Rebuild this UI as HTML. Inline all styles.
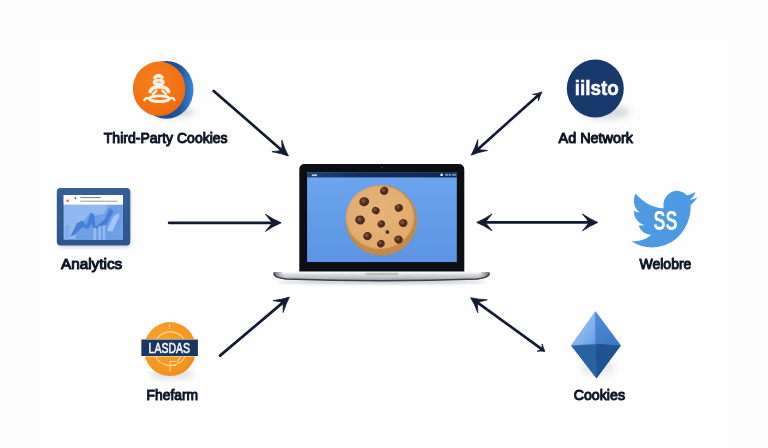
<!DOCTYPE html>
<html lang="en">
<head>
<meta charset="utf-8">
<title>Third-Party Cookies Diagram</title>
<style>
html,body{margin:0;padding:0;background:#fdfdfd;}
body{width:768px;height:448px;overflow:hidden;}
svg{display:block;}
svg text{font-family:"Liberation Sans",sans-serif;}
</style>
</head>
<body>
<svg width="768" height="448" viewBox="0 0 768 448">
<defs>
<radialGradient id="bg" cx="50%" cy="50%" r="75%">
<stop offset="0.7" stop-color="#fefefe"/><stop offset="1" stop-color="#f7f8fa"/>
</radialGradient>
<linearGradient id="base" x1="0" y1="0" x2="0" y2="1">
<stop offset="0" stop-color="#e9eaed"/><stop offset="0.4" stop-color="#d2d4d8"/><stop offset="0.75" stop-color="#b4b7bc"/><stop offset="1" stop-color="#8d9096"/>
</linearGradient>
<linearGradient id="baseH" x1="0" y1="0" x2="1" y2="0">
<stop offset="0" stop-color="#4a4e55" stop-opacity="0.95"/><stop offset="0.012" stop-color="#6a6e75" stop-opacity="0.8"/><stop offset="0.05" stop-color="#9a9da3" stop-opacity="0"/>
<stop offset="0.95" stop-color="#9a9da3" stop-opacity="0"/><stop offset="0.988" stop-color="#6a6e75" stop-opacity="0.8"/><stop offset="1" stop-color="#4a4e55" stop-opacity="0.95"/>
</linearGradient>
<linearGradient id="scr" x1="0" y1="0" x2="0" y2="1">
<stop offset="0" stop-color="#6ca6ef"/><stop offset="1" stop-color="#5a94e3"/>
</linearGradient>
<linearGradient id="mbar" x1="0" y1="0" x2="1" y2="0">
<stop offset="0" stop-color="#1d4272"/><stop offset="0.35" stop-color="#12305a"/><stop offset="1" stop-color="#0e2a50"/>
</linearGradient>
<linearGradient id="rim" x1="0" y1="0" x2="1" y2="0">
<stop offset="0" stop-color="#1a4a88"/><stop offset="0.72" stop-color="#1e5296"/><stop offset="0.9" stop-color="#2f72c0"/><stop offset="1" stop-color="#3d86d6"/>
</linearGradient>
<linearGradient id="frm" x1="0" y1="0" x2="0" y2="1">
<stop offset="0" stop-color="#355f97"/><stop offset="1" stop-color="#2c5589"/>
</linearGradient>
<linearGradient id="d1" x1="0.5" y1="0.5" x2="1" y2="1">
<stop offset="0" stop-color="#8ab8ef"/><stop offset="0.5" stop-color="#78abe8"/><stop offset="1" stop-color="#639ce0"/>
</linearGradient>
<linearGradient id="d2" x1="0" y1="0" x2="0.6" y2="1">
<stop offset="0" stop-color="#4f8dd8"/><stop offset="1" stop-color="#3d7ac6"/>
</linearGradient>
<radialGradient id="org" cx="40%" cy="35%" r="70%">
<stop offset="0" stop-color="#f67f20"/><stop offset="1" stop-color="#f06a0e"/>
</radialGradient>
<radialGradient id="org2" cx="35%" cy="30%" r="80%">
<stop offset="0" stop-color="#f9a22c"/><stop offset="0.8" stop-color="#f4941f"/><stop offset="1" stop-color="#ea851a"/>
</radialGradient>
<radialGradient id="cookie" cx="45%" cy="40%" r="65%">
<stop offset="0" stop-color="#e6b379"/><stop offset="0.9" stop-color="#e1ab6c"/><stop offset="1" stop-color="#dda567"/>
</radialGradient>
<filter id="blur3" x="-50%" y="-50%" width="200%" height="200%"><feGaussianBlur stdDeviation="3"/></filter>
<filter id="blur6" x="-10%" y="-10%" width="120%" height="120%"><feGaussianBlur stdDeviation="5"/></filter>
<filter id="blur2" x="-50%" y="-50%" width="200%" height="200%"><feGaussianBlur stdDeviation="1.6"/></filter>
</defs>
<rect width="768" height="448" fill="#fdfdfd"/>
<rect x="40" y="37" width="690" height="430" fill="#fefefe" filter="url(#blur6)"/>

<!-- arrows -->
<line x1="213.7" y1="91.0" x2="281.4" y2="149.9" stroke="#101a30" stroke-width="2.7" stroke-linecap="round"/>
<path d="M288.4 156.0 Q280.7 153.2 271.9 151.7 Q277.8 151.0 281.9 150.4 Q282.0 146.2 281.8 140.2 Q284.5 148.8 288.4 156.0Z" fill="#101a30" stroke="#101a30" stroke-width="0.8" stroke-linejoin="round"/>
<line x1="538.0" y1="95.4" x2="478.2" y2="149.0" stroke="#101a30" stroke-width="2.7" stroke-linecap="round"/>
<path d="M471.2 155.2 Q475.1 148.1 477.8 139.6 Q477.6 145.4 477.6 149.5 Q481.7 149.9 487.4 150.4 Q478.7 152.1 471.2 155.2Z" fill="#101a30" stroke="#101a30" stroke-width="0.8" stroke-linejoin="round"/>
<path d="M541.9 91.9 Q539.8 96.0 538.4 100.9 Q538.4 97.5 538.3 95.1 Q535.9 94.8 532.6 94.4 Q537.6 93.5 541.9 91.9Z" fill="#101a30" stroke="#101a30" stroke-width="0.8" stroke-linejoin="round"/>
<line x1="169.1" y1="222.8" x2="271.6" y2="222.8" stroke="#101a30" stroke-width="2.7" stroke-linecap="round"/>
<path d="M281.2 222.8 Q273.3 226.1 265.4 231.4 Q269.5 226.4 272.4 222.8 Q269.5 219.2 265.4 214.2 Q273.3 219.5 281.2 222.8Z" fill="#101a30" stroke="#101a30" stroke-width="0.8" stroke-linejoin="round"/>
<line x1="486.0" y1="222.4" x2="588.5" y2="222.4" stroke="#101a30" stroke-width="2.7" stroke-linecap="round"/>
<path d="M597.8 222.4 Q590.1 225.6 582.5 230.8 Q586.5 225.9 589.2 222.4 Q586.5 218.9 582.5 214.0 Q590.1 219.2 597.8 222.4Z" fill="#101a30" stroke="#101a30" stroke-width="0.8" stroke-linejoin="round"/>
<path d="M476.7 222.4 Q484.3 219.2 492.0 214.0 Q488.0 218.9 485.3 222.4 Q488.0 225.9 492.0 230.8 Q484.3 225.6 476.7 222.4Z" fill="#101a30" stroke="#101a30" stroke-width="0.8" stroke-linejoin="round"/>
<line x1="220.1" y1="355.6" x2="282.5" y2="302.9" stroke="#101a30" stroke-width="2.7" stroke-linecap="round"/>
<path d="M289.4 297.1 Q285.7 304.1 283.2 312.5 Q283.2 306.6 283.1 302.4 Q279.0 301.6 273.1 300.6 Q281.9 299.6 289.4 297.1Z" fill="#101a30" stroke="#101a30" stroke-width="0.8" stroke-linejoin="round"/>
<line x1="477.9" y1="302.9" x2="541.7" y2="349.1" stroke="#101a30" stroke-width="2.7" stroke-linecap="round"/>
<path d="M544.9 351.4 Q541.3 350.8 537.1 351.2 Q539.9 350.1 542.0 349.3 Q542.1 347.1 542.2 344.0 Q543.2 348.1 544.9 351.4Z" fill="#101a30" stroke="#101a30" stroke-width="0.8" stroke-linejoin="round"/>
<path d="M470.7 297.7 Q478.4 299.5 487.2 299.8 Q481.4 301.3 477.3 302.5 Q477.5 306.8 477.8 312.7 Q474.8 304.4 470.7 297.7Z" fill="#101a30" stroke="#101a30" stroke-width="0.8" stroke-linejoin="round"/>

<!-- third-party cookies coin -->
<ellipse cx="172" cy="112" rx="22" ry="6" fill="#8a94a6" opacity="0.35" filter="url(#blur3)"/>
<ellipse cx="166.300" cy="89.800" rx="27.200" ry="28.900" fill="url(#rim)"/>
<ellipse cx="159.100" cy="88.800" rx="26.200" ry="27.200" fill="url(#org)"/>
<g fill="none" stroke="#fff3e2" stroke-linecap="round" stroke-linejoin="round">
<path d="M154.800 77.600 Q158.300 73.800 162 77.200" stroke-width="3.400"/>
<ellipse cx="158.700" cy="82.200" rx="4.600" ry="2" stroke-width="2.900"/>
<path d="M150.200 91.600 Q151.500 87 159.300 86.600 Q167.300 87 168.700 91.600" stroke-width="3.600"/>
<path d="M156.500 90.500 L153 94 M162.300 90.500 L166 94" stroke-width="2.400"/>
<ellipse cx="159.400" cy="98.700" rx="9.800" ry="2.800" stroke-width="2.900"/>
<path d="M149 98.400 Q146 96.800 144.400 100.200 M169.800 98.400 Q173 96.800 174.500 100.200" stroke-width="2.400"/>
</g>

<!-- ad network -->
<ellipse cx="606" cy="112" rx="24" ry="7" fill="#8a94a6" opacity="0.35" filter="url(#blur3)"/>
<ellipse cx="595.300" cy="88.500" rx="28.500" ry="28.900" fill="#17396c"/>
<g opacity="0.995"><text x="574.700" y="94.700" font-size="19.500" font-weight="700" fill="#fff" stroke="#fff" stroke-width="0.500" textLength="44" lengthAdjust="spacingAndGlyphs">iilsto</text></g>

<!-- analytics -->
<rect x="58" y="190.500" width="73" height="57.500" rx="4" fill="#8a94a6" opacity="0.3" filter="url(#blur2)"/>
<rect x="56.800" y="188.100" width="73.500" height="57.300" rx="3.600" fill="url(#frm)"/>
<rect x="63.600" y="195" width="59.400" height="44.600" fill="#90b9f0"/>
<path d="M75.2 239.8 L77.7 222.4 L84.5 219.9 L90.4 212.3 L94.7 215.7 L104.0 214.0 L108.3 205.5 L123.0 204.8 L123.0 239.8Z" fill="#6da0e7"/>
<rect x="65.0" y="225.0" width="4.2" height="14.8" fill="#7eabea" opacity="0.9"/>
<path d="M70.1 236.9 L76.9 223.3 L82.8 220.7 L86.2 225.8 L90.4 213.1 L94.2 214.0 L95.5 226.7 L104.0 219.9 L110.0 208.0 L113.4 211.4 L106.6 225.0 L98.9 226.7 L94.7 230.9 L91.3 224.1 L87.9 229.2 L82.8 226.7 L75.2 234.3Z" fill="#4680d6"/>
<path d="M107.4 229.2 L113.4 216.5 L118.5 213.1 L119.6 215.7 L112.5 230.9 L109.1 231.8Z" fill="#a6c7f5"/>
<rect x="93.5" y="227.9" width="2.7" height="11.9" fill="#a3c5f4" opacity="0.8"/>
<rect x="98.6" y="226.2" width="2.2" height="13.6" fill="#a3c5f4" opacity="0.8"/>
<rect x="103.0" y="225.2" width="1.9" height="14.6" fill="#a3c5f4" opacity="0.8"/>
<rect x="63.600" y="195" width="59.400" height="9.600" fill="#fdfdfe"/>
<circle cx="67.500" cy="200.700" r="1.300" fill="#ea6a2a"/>
<path d="M74.200 197.600 H76.600 L75.400 199.400Z" fill="#34435e"/>
<rect x="80.300" y="197" width="20.400" height="1.100" fill="#7f8794"/>
<rect x="80.300" y="200.700" width="37" height="1.100" fill="#aaa39e"/>

<!-- laptop -->
<ellipse cx="381.500" cy="282" rx="104" ry="2" fill="#6d727c" opacity="0.35" filter="url(#blur2)"/>
<path d="M299.300 271.500 V169.400 Q299.300 163.900 304.800 163.900 H458.400 Q464.300 163.900 464.300 169.800 V271.500Z" fill="#0c0e13"/>
<rect x="307.100" y="172.200" width="149.700" height="89.800" fill="url(#scr)"/>
<rect x="307.100" y="172.200" width="149.700" height="5.200" fill="url(#mbar)"/>
<rect x="311.800" y="174.300" width="5.200" height="1.800" fill="#b4c8e6"/>
<rect x="440.500" y="173.700" width="2.300" height="2.300" fill="#eef3fa"/>
<rect x="445.300" y="173.800" width="2.600" height="2" fill="#7f9cc8"/><rect x="448.600" y="173.800" width="2.200" height="2" fill="#7f9cc8"/><rect x="451.800" y="173.800" width="4.400" height="2" fill="#6f8fbe"/>
<circle cx="382" cy="167.600" r="0.900" fill="#3a3f4a"/>
<path d="M273.400 273 Q273.400 272 274.400 272 H488.700 Q489.700 272 489.700 273 V274.400 Q489.200 277.800 477 279.400 Q430 280.800 381.500 280.800 Q333 280.800 286 279.400 Q273.900 277.800 273.400 274.400Z" fill="url(#base)"/>
<path d="M273.400 273 Q273.400 272 274.400 272 H488.700 Q489.700 272 489.700 273 V274.400 Q489.200 277.800 477 279.400 Q430 280.800 381.500 280.800 Q333 280.800 286 279.400 Q273.900 277.800 273.400 274.400Z" fill="url(#baseH)"/>
<path d="M274.300 274.600 Q275 277.400 286 279.100 Q333 280.700 381.500 280.700 Q430 280.700 477 279.100 Q488.200 277.400 488.900 274.600" fill="none" stroke="#3b3f46" stroke-width="1.500" stroke-linecap="round"/>
<path d="M365.100 271.900 H398.600 V272.900 Q398.600 274.500 396.600 274.500 H367.100 Q365.100 274.500 365.100 272.900Z" fill="#8f9298"/>
<rect x="282" y="272" width="199" height="1.600" fill="#f6f7f8" opacity="0.85"/>

<!-- cookie -->
<ellipse cx="381.400" cy="220.300" rx="35" ry="34.700" fill="#c58949"/>
<ellipse cx="381.400" cy="220.300" rx="35" ry="34.700" fill="none" stroke="#c58949" stroke-width="1.400" stroke-dasharray="2.200 1.600" stroke-linecap="round"/>
<ellipse cx="380" cy="217.200" rx="33.600" ry="31.300" fill="url(#cookie)"/>
<ellipse cx="380" cy="217.200" rx="33.600" ry="31.300" fill="none" stroke="#dca466" stroke-width="1.200" stroke-dasharray="2 1.700" stroke-linecap="round"/>
<ellipse cx="384.2" cy="190.8" rx="4.3" ry="4.0" fill="#4d2b1d" transform="rotate(-45 384.2 190.8)"/><circle cx="383.3" cy="189.9" r="2.0" fill="#7a4c33"/>
<ellipse cx="364.2" cy="201.7" rx="4.9" ry="4.5" fill="#4d2b1d" transform="rotate(-8 364.2 201.7)"/><circle cx="363.3" cy="200.79999999999998" r="2.2" fill="#7a4c33"/>
<ellipse cx="375.8" cy="210.6" rx="3.9" ry="3.6" fill="#4d2b1d" transform="rotate(29 375.8 210.6)"/><circle cx="374.90000000000003" cy="209.7" r="1.8" fill="#7a4c33"/>
<ellipse cx="398.8" cy="207.9" rx="4.1" ry="3.8" fill="#4d2b1d" transform="rotate(-24 398.8 207.9)"/><circle cx="397.90000000000003" cy="207.0" r="1.9" fill="#7a4c33"/>
<ellipse cx="360.1" cy="220" rx="4.9" ry="4.5" fill="#4d2b1d" transform="rotate(13 360.1 220)"/><circle cx="359.20000000000005" cy="219.1" r="2.2" fill="#7a4c33"/>
<ellipse cx="381.3" cy="224" rx="3.8" ry="3.5" fill="#4d2b1d" transform="rotate(-40 381.3 224)"/><circle cx="380.40000000000003" cy="223.1" r="1.8" fill="#7a4c33"/>
<ellipse cx="403.2" cy="223.1" rx="4.3" ry="4.0" fill="#4d2b1d" transform="rotate(-3 403.2 223.1)"/><circle cx="402.3" cy="222.2" r="2.0" fill="#7a4c33"/>
<ellipse cx="387.4" cy="232" rx="1.9" ry="1.8" fill="#4d2b1d" transform="rotate(34 387.4 232)"/><circle cx="386.5" cy="231.1" r="0.9" fill="#7a4c33"/>
<ellipse cx="367.5" cy="236.1" rx="4.3" ry="4.0" fill="#4d2b1d" transform="rotate(-19 367.5 236.1)"/><circle cx="366.6" cy="235.2" r="2.0" fill="#7a4c33"/>
<ellipse cx="398.5" cy="239.6" rx="4.3" ry="4.0" fill="#4d2b1d" transform="rotate(18 398.5 239.6)"/><circle cx="397.6" cy="238.7" r="2.0" fill="#7a4c33"/>
<ellipse cx="380.9" cy="243.7" rx="3.9" ry="3.6" fill="#4d2b1d" transform="rotate(-35 380.9 243.7)"/><circle cx="380.0" cy="242.79999999999998" r="1.8" fill="#7a4c33"/>

<!-- bird -->
<g transform="translate(631.200 184.300) scale(2.760 2.900)"><path d="M23.953 4.57a10 10 0 01-2.825.775 4.958 4.958 0 002.163-2.723c-.951.555-2.005.959-3.127 1.184a4.92 4.92 0 00-8.384 4.482C7.69 8.095 4.067 6.13 1.64 3.162a4.822 4.822 0 00-.666 2.475c0 1.71.87 3.213 2.188 4.096a4.904 4.904 0 01-2.228-.616v.06a4.923 4.923 0 003.946 4.827 4.996 4.996 0 01-2.212.085 4.936 4.936 0 004.604 3.417 9.867 9.867 0 01-6.102 2.105c-.39 0-.779-.023-1.17-.067a13.995 13.995 0 007.557 2.209c9.053 0 13.998-7.496 13.998-13.985 0-.21 0-.42-.015-.63A9.935 9.935 0 0024 4.59z" fill="#4c9ae2"/></g>
<g opacity="0.995"><text x="653.400" y="230.300" font-size="28.500" font-weight="700" fill="#fff" textLength="24" lengthAdjust="spacingAndGlyphs">SS</text></g>

<!-- badge -->
<ellipse cx="172" cy="374" rx="22" ry="5" fill="#8a94a6" opacity="0.3" filter="url(#blur3)"/>
<ellipse cx="170" cy="349.100" rx="26.100" ry="27" fill="url(#org2)"/>
<g fill="none" stroke="#fbd88a" stroke-width="1.200" stroke-linecap="round" stroke-linejoin="round">
<circle cx="170.300" cy="348.700" r="16.800"/>
<path d="M169.400 324.800 V328.600 M170 361.500 V371 M170 361.500 H177.500 M170 365.300 H175.500 M177.500 361.500 L180 357.500"/>
</g>
<rect x="141.400" y="339" width="56.500" height="17.600" fill="#f4e3c2"/>
<rect x="141.400" y="339.600" width="56.500" height="16.400" fill="#1a3763"/>
<g opacity="0.995"><text x="148.600" y="353" font-size="14" fill="#fff" stroke="#fff" stroke-width="0.500" textLength="41.400" lengthAdjust="spacingAndGlyphs">LASDAS</text></g>

<!-- diamond -->
<ellipse cx="598" cy="368" rx="18" ry="8" fill="#8a94a6" opacity="0.18" filter="url(#blur3)"/>
<path d="M595.400 311.500 L571.300 345.400 L596.500 378.100 L620.600 345.400Z" fill="#3a76c0"/>
<path d="M595.400 311.300 L571 345.400 L595.800 343.700Z" fill="url(#d1)"/>
<path d="M595.400 311.300 L620.900 345.400 L595.800 343.700Z" fill="url(#d2)"/>
<path d="M571 345.400 L595.800 343.700 L596.500 378.400Z" fill="#28639f"/>
<path d="M620.900 345.400 L595.800 343.700 L596.500 378.400Z" fill="#1e5491"/>
<path d="M571.600 345.300 L595.800 343.900" stroke="#7aa9e2" stroke-width="0.700" fill="none" opacity="0.8"/>

<!-- labels -->
<g opacity="0.995">
<text x="103.8" y="142.9" font-size="15" textLength="123.8" lengthAdjust="spacingAndGlyphs" fill="#0d1526" stroke="#0d1526" stroke-width="1.05" stroke-linejoin="round">Third-Party Cookies</text>
<text x="558.6" y="142.7" font-size="15" textLength="74.4" lengthAdjust="spacingAndGlyphs" fill="#0d1526" stroke="#0d1526" stroke-width="1.05" stroke-linejoin="round">Ad Network</text>
<text x="61" y="269.3" font-size="15" textLength="61.2" lengthAdjust="spacingAndGlyphs" fill="#0d1526" stroke="#0d1526" stroke-width="1.05" stroke-linejoin="round">Analytics</text>
<text x="639.5" y="269.2" font-size="15" textLength="51.9" lengthAdjust="spacingAndGlyphs" fill="#0d1526" stroke="#0d1526" stroke-width="1.05" stroke-linejoin="round">Welobre</text>
<text x="146.5" y="399.6" font-size="15" textLength="51.6" lengthAdjust="spacingAndGlyphs" fill="#0d1526" stroke="#0d1526" stroke-width="1.05" stroke-linejoin="round">Fhefarm</text>
<text x="573.7" y="399.6" font-size="15" textLength="51.3" lengthAdjust="spacingAndGlyphs" fill="#0d1526" stroke="#0d1526" stroke-width="1.05" stroke-linejoin="round">Cookies</text>
</g>
</svg>
</body>
</html>
